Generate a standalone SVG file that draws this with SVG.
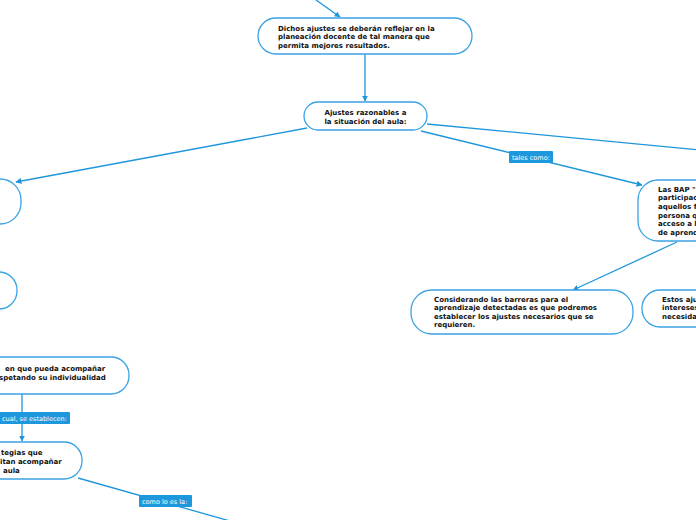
<svg xmlns="http://www.w3.org/2000/svg" width="696" height="520" viewBox="0 0 696 520">
<style>
.n{fill:#fff;stroke:#3aa3e3;stroke-width:1.3}
.t{font-family:"DejaVu Sans",Verdana,sans-serif;font-weight:bold;font-size:7px;fill:#111}
.c{fill:none;stroke:#1e96dc;stroke-width:1.3}
.lb{fill:#1e98dc}
.lt{font-family:"DejaVu Sans",Verdana,sans-serif;font-size:6.5px;fill:#fff}
</style>
<defs>
<marker id="a" viewBox="0 0 10 10" refX="9" refY="5" markerWidth="6" markerHeight="6" orient="auto" markerUnits="userSpaceOnUse">
<path d="M0,0 L10,5 L0,10 z" fill="#1e96dc"/>
</marker>
</defs>
<rect width="696" height="520" fill="#fff"/>
<g id="connectors">
<line class="c" x1="316" y1="0" x2="340" y2="17" marker-end="url(#a)"/>
<line class="c" x1="365" y1="54" x2="365" y2="101" marker-end="url(#a)"/>
<line class="c" x1="307" y1="128" x2="16" y2="182" marker-end="url(#a)"/>
<line class="c" x1="427" y1="124" x2="700" y2="150"/>
<line class="c" x1="421" y1="131" x2="642" y2="185" marker-end="url(#a)"/>
<line class="c" x1="677" y1="242" x2="573" y2="290" marker-end="url(#a)"/>
<line class="c" x1="22" y1="394" x2="22" y2="441" marker-end="url(#a)"/>
<line class="c" x1="78" y1="478" x2="230" y2="521"/>
<g id="label-tales">
<rect class="lb" x="509" y="151" width="44" height="12" rx="1"/>
<text class="lt" x="512" y="159.5">tales como:</text>
</g>
<g id="label-cual">
<rect class="lb" x="-5" y="412" width="75" height="12" rx="1"/>
<text class="lt" x="2" y="420.5">cual, se establecen:</text>
</g>
<g id="label-como">
<rect class="lb" x="139" y="495" width="53" height="12" rx="1"/>
<text class="lt" x="142" y="503.5">como lo es la:</text>
</g>
</g>
<g id="node-dichos">
<rect class="n" x="258" y="18" width="214" height="36" rx="18"/>
<text class="t" x="278" y="30.5">Dichos ajustes se deberán reflejar en la</text>
<text class="t" x="278" y="39">planeación docente de tal manera que</text>
<text class="t" x="278" y="47.5">permita mejores resultados.</text>
</g>
<g id="node-ajustes">
<rect class="n" x="304" y="102" width="123" height="28" rx="14"/>
<text class="t" x="365.5" y="114.5" text-anchor="middle">Ajustes razonables a</text>
<text class="t" x="365.5" y="123.5" text-anchor="middle">la situación del aula:</text>
</g>
<g id="node-left1">
<rect class="n" x="-100" y="179" width="121" height="45" rx="21"/>
</g>
<g id="node-left2">
<rect class="n" x="-100" y="272" width="117" height="37" rx="18"/>
</g>
<g id="node-left3">
<rect class="n" x="-100" y="357" width="229" height="37" rx="18"/>
<text class="t" x="5" y="370.5">en que pueda acompañar</text>
<text class="t" x="-1" y="379.5">spetando su individualidad</text>
</g>
<g id="node-left4">
<rect class="n" x="-100" y="442" width="182" height="37" rx="18"/>
<text class="t" x="1" y="454.5">tegias que</text>
<text class="t" x="0" y="463.5">itan acompañar</text>
<text class="t" x="3" y="472.5">aula</text>
</g>
<g id="node-bap">
<rect class="n" x="638" y="180" width="120" height="61" rx="20"/>
<text class="t" x="658" y="191.5">Las BAP "</text>
<text class="t" x="658" y="200.2">participac</text>
<text class="t" x="658" y="208.9">aquellos f</text>
<text class="t" x="658" y="217.6">persona q</text>
<text class="t" x="658" y="226.3">acceso a l</text>
<text class="t" x="658" y="235">de aprend</text>
</g>
<g id="node-considerando">
<rect class="n" x="411" y="290" width="222" height="44" rx="21"/>
<text class="t" x="434" y="301.5">Considerando las barreras para el</text>
<text class="t" x="434" y="310">aprendizaje detectadas es que podremos</text>
<text class="t" x="434" y="318.5">establecer los ajustes necesarios que se</text>
<text class="t" x="434" y="327">requieren.</text>
</g>
<g id="node-estos">
<rect class="n" x="642" y="290" width="120" height="37" rx="18"/>
<text class="t" x="662" y="301.5">Estos aju</text>
<text class="t" x="662" y="310">intereses</text>
<text class="t" x="662" y="318.5">necesida</text>
</g>
</svg>
